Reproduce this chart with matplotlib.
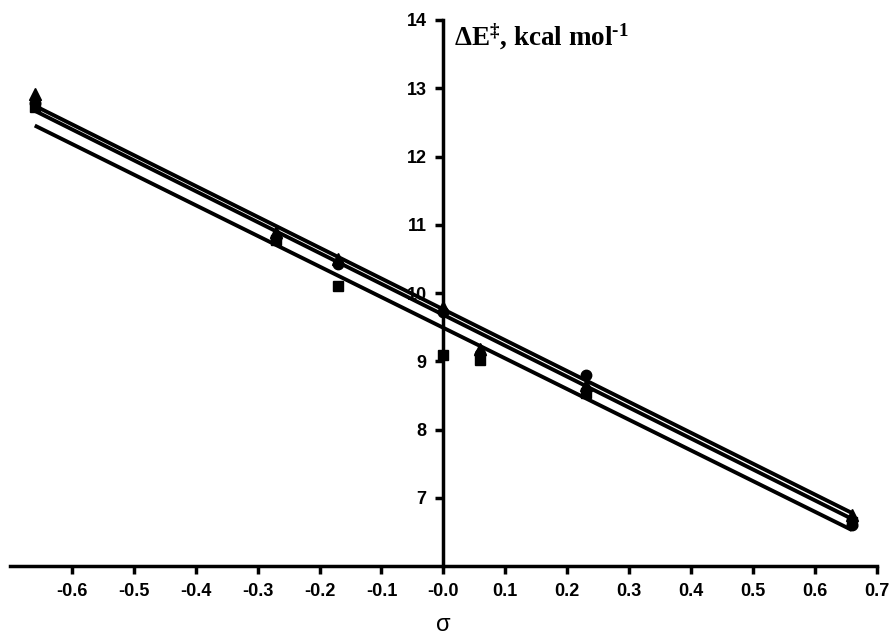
import numpy as np
import matplotlib
matplotlib.use("Agg")
import matplotlib.pyplot as plt

# substituent constants
sigma = [-0.66, -0.27, -0.17, 0.0, 0.06, 0.23, 0.66]

# activation energies, kcal/mol
dE_tri = [12.92, 10.90, 10.50, 9.80, 9.18, 8.65, 6.75]
dE_circ = [12.78, 10.80, 10.43, 9.72, 9.10, 8.80, 6.60]
dE_sq = [12.72, 10.78, 10.10, 9.09, 9.02, 8.54, 6.65]

# linear fits (slope, intercept)
fit_slope = [-4.52, -4.53, -4.49]
fit_icpt = [9.76, 9.68, 9.49]

xticks = [-0.6, -0.5, -0.4, -0.3, -0.2, -0.1, 0.0, 0.1, 0.2, 0.3, 0.4, 0.5, 0.6, 0.7]
xlabels = ["-0.6", "-0.5", "-0.4", "-0.3", "-0.2", "-0.1", "-0.0",
           "0.1", "0.2", "0.3", "0.4", "0.5", "0.6", "0.7"]
yticks = [7, 8, 9, 10, 11, 12, 13, 14]

plt.rcParams['font.family'] = ['Liberation Sans', 'DejaVu Sans']
plt.rcParams['mathtext.fontset'] = 'custom'
plt.rcParams['mathtext.rm'] = 'Liberation Serif:bold'
plt.rcParams['mathtext.bf'] = 'Liberation Serif:bold'
plt.rcParams['mathtext.it'] = 'Liberation Serif:bold'

fig = plt.figure(figsize=(8.92, 6.35), dpi=100)
ax = fig.add_axes([10/892, 1-566/635, (876.7-10)/892, (566-20)/635])

xs = np.array([min(sigma), max(sigma)])
for m, b in zip(fit_slope, fit_icpt):
    ax.plot(xs, m*xs + b, color='black', lw=2.8, solid_capstyle='butt', zorder=2)

ax.plot(sigma, dE_tri, '^', color='black', ms=8, zorder=3)
ax.plot(sigma, dE_circ, 'o', color='black', ms=7.5, zorder=3)
ax.plot(sigma, dE_sq, 's', color='black', ms=7, zorder=3)

ax.set_xlim(-0.7, 0.7)
ax.set_ylim(6, 14)

ax.spines['right'].set_visible(False)
ax.spines['top'].set_visible(False)
ax.spines['left'].set_position(('data', 0))
ax.spines['left'].set_linewidth(2.5)
ax.spines['bottom'].set_linewidth(2.5)

ax.set_xticks(xticks)
ax.set_xticklabels(xlabels, fontweight='bold', fontsize=13)
ax.set_yticks(yticks)
ax.set_yticklabels([str(t) for t in yticks], fontweight='bold', fontsize=13)
ax.tick_params(axis='both', direction='out', length=6, width=2.5, pad=6)

ax.text(0.018, 13.75, "ΔE$^{‡}$, kcal mol$^{‐1}$",
        fontsize=19.5, fontweight='bold', family='Liberation Serif',
        ha='left', va='center')
ax.set_xlabel("σ", fontsize=17, labelpad=10)

fig.savefig("out.png", dpi=100)
